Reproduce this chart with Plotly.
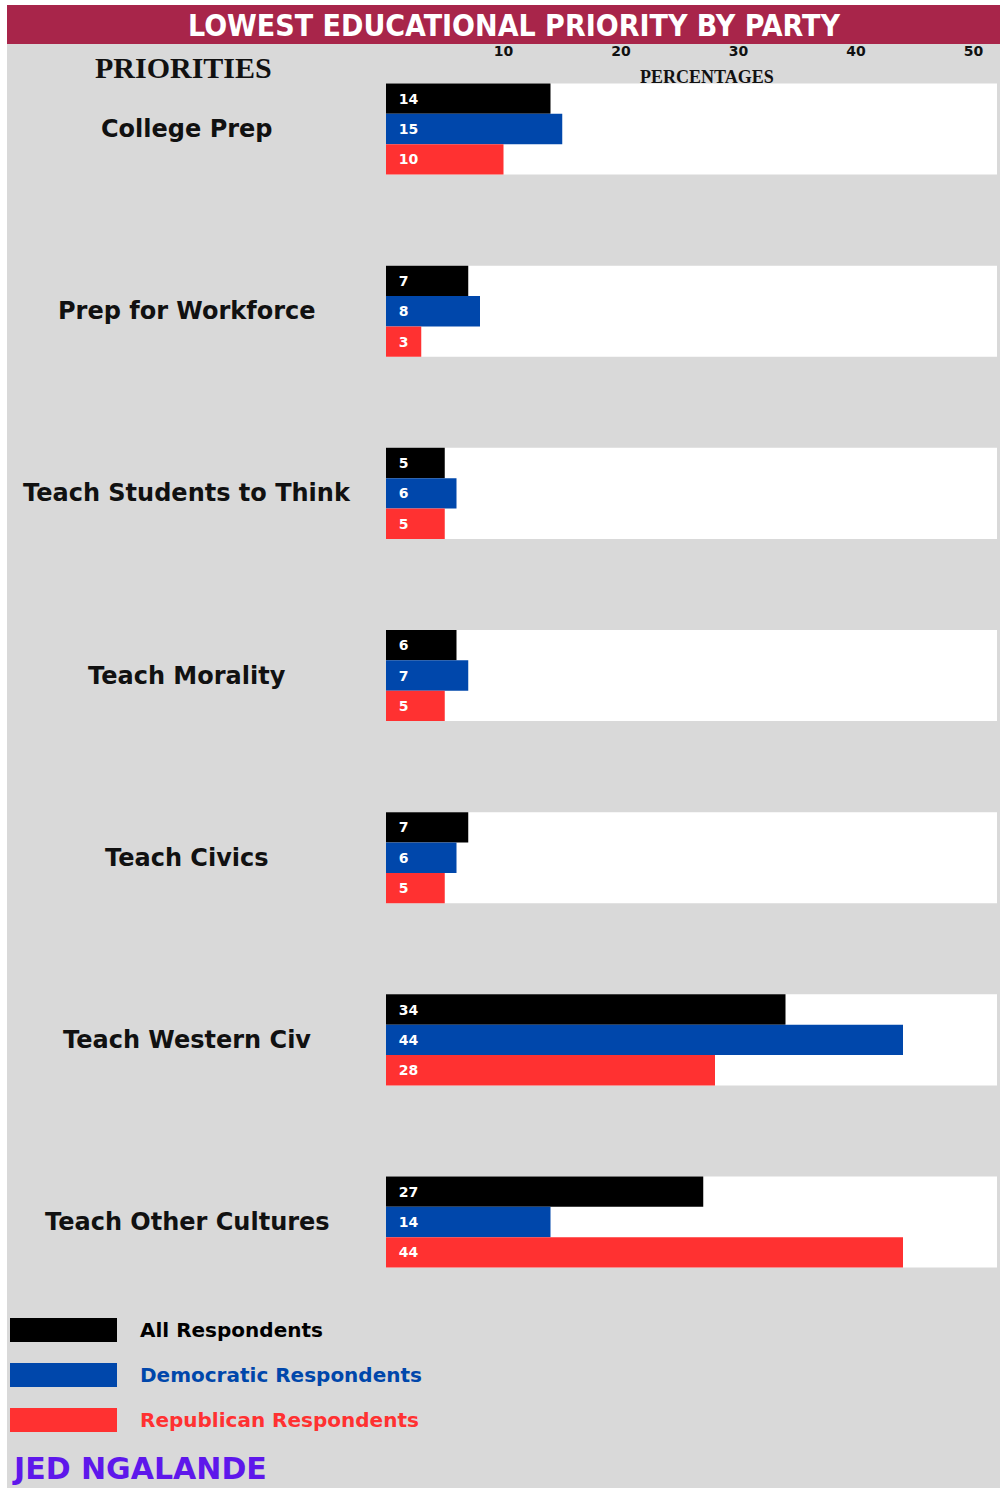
import plotly.graph_objects as go

categories = ["College Prep", "Prep for Workforce", "Teach Students to Think",
              "Teach Morality", "Teach Civics", "Teach Western Civ", "Teach Other Cultures"]
all_resp = [14, 7, 5, 6, 7, 34, 27]
dem_resp = [15, 8, 6, 7, 6, 44, 14]
rep_resp = [10, 3, 5, 5, 5, 28, 44]
series_names = ["All Respondents", "Democratic Respondents", "Republican Respondents"]
tick_vals = [10, 20, 30, 40, 50]

W, H = 1000, 1488
BLACK, BLUE, RED = "#000000", "#0047AB", "#FF3131"
CRIMSON, GRAY, PURPLE = "#A8254A", "#D9D9D9", "#5E17EB"
colors = [BLACK, BLUE, RED]

def px_x(p):
    return p / W

def px_y(p):
    return 1 - p / H

fig = go.Figure()
for name, vals, col in zip(series_names, [all_resp, dem_resp, rep_resp], colors):
    fig.add_trace(go.Bar(
        y=categories, x=vals, orientation="h", name=name,
        marker=dict(color=col, line=dict(width=0)),
        text=[str(v) for v in vals], texttemplate="  %{text}",
        textposition="inside", insidetextanchor="start",
        textfont=dict(color="white", size=14, family="DejaVu Sans", weight="bold"),
        textangle=0, showlegend=False, cliponaxis=False,
    ))

shapes = []
shapes.append(dict(type="rect", xref="paper", yref="paper", x0=px_x(7), x1=1,
                   y0=0, y1=px_y(44), fillcolor=GRAY, line=dict(width=0), layer="below"))
shapes.append(dict(type="rect", xref="paper", yref="paper", x0=px_x(7), x1=1,
                   y0=px_y(44), y1=px_y(5), fillcolor=CRIMSON, line=dict(width=0), layer="below"))
for i, _ in enumerate(categories):
    shapes.append(dict(type="rect", xref="x domain", yref="y", x0=0, x1=1,
                       y0=i - 0.25, y1=i + 0.25, fillcolor="white",
                       line=dict(width=0), layer="below"))
for k, col in enumerate(colors):
    yc = 1330 + k * 45
    shapes.append(dict(type="rect", xref="paper", yref="paper", x0=px_x(10), x1=px_x(117),
                       y0=px_y(yc + 12), y1=px_y(yc - 12), fillcolor=col,
                       line=dict(width=0)))

ann = []
ann.append(dict(text="LOWEST EDUCATIONAL PRIORITY BY PARTY", xref="paper", yref="paper",
                x=px_x(514), y=px_y(25), showarrow=False, xanchor="center", yanchor="middle",
                font=dict(family="Liberation Sans Narrow, DejaVu Sans Condensed, Liberation Sans",
                          size=30, color="white", weight="bold")))
ann.append(dict(text="PRIORITIES", xref="paper", yref="paper", x=px_x(183), y=px_y(68),
                showarrow=False, xanchor="center", yanchor="middle",
                font=dict(family="Liberation Serif, DejaVu Serif", size=30, color="#111111",
                          weight="bold")))
ann.append(dict(text="PERCENTAGES", xref="paper", yref="paper", x=px_x(707), y=px_y(77),
                showarrow=False, xanchor="center", yanchor="middle",
                font=dict(family="Liberation Serif, DejaVu Serif", size=18, color="#111111",
                          weight="bold")))
for cat in categories:
    ann.append(dict(text=cat, xref="paper", yref="y", x=px_x(187), y=cat, showarrow=False,
                    xanchor="center", yanchor="middle",
                    font=dict(family="DejaVu Sans", size=24, color="#111111", weight="bold")))
for k, (name, col) in enumerate(zip(series_names, colors)):
    yc = 1330 + k * 45
    ann.append(dict(text=name, xref="paper", yref="paper", x=px_x(138), y=px_y(yc),
                    showarrow=False, xanchor="left", yanchor="middle",
                    font=dict(family="DejaVu Sans", size=20, color=col, weight="bold")))
ann.append(dict(text="JED NGALANDE", xref="paper", yref="paper", x=px_x(10), y=px_y(1468),
                showarrow=False, xanchor="left", yanchor="middle",
                font=dict(family="DejaVu Sans", size=30, color=PURPLE, weight="bold")))

fig.update_layout(
    width=W, height=H, margin=dict(l=0, r=0, t=0, b=0),
    paper_bgcolor="white", plot_bgcolor="rgba(0,0,0,0)",
    barmode="group", bargap=0.5, bargroupgap=0,
    shapes=shapes, annotations=ann, showlegend=False,
    xaxis=dict(domain=[px_x(386), px_x(997)], range=[0, 52], side="top",
               tickvals=tick_vals, ticktext=[str(v) for v in tick_vals],
               showgrid=False, zeroline=False, showline=False, ticks="",
               tickfont=dict(family="DejaVu Sans", size=14, color="#111111", weight="bold"),
               fixedrange=True),
    yaxis=dict(domain=[px_y(1290), px_y(60)], range=[6.373, -0.379],
               showticklabels=False, showgrid=False, zeroline=False, showline=False,
               ticks="", fixedrange=True),
)

fig.write_html("out.html", config={"displayModeBar": False},
               post_script="document.body.style.margin='0';document.body.style.overflow='hidden';")
